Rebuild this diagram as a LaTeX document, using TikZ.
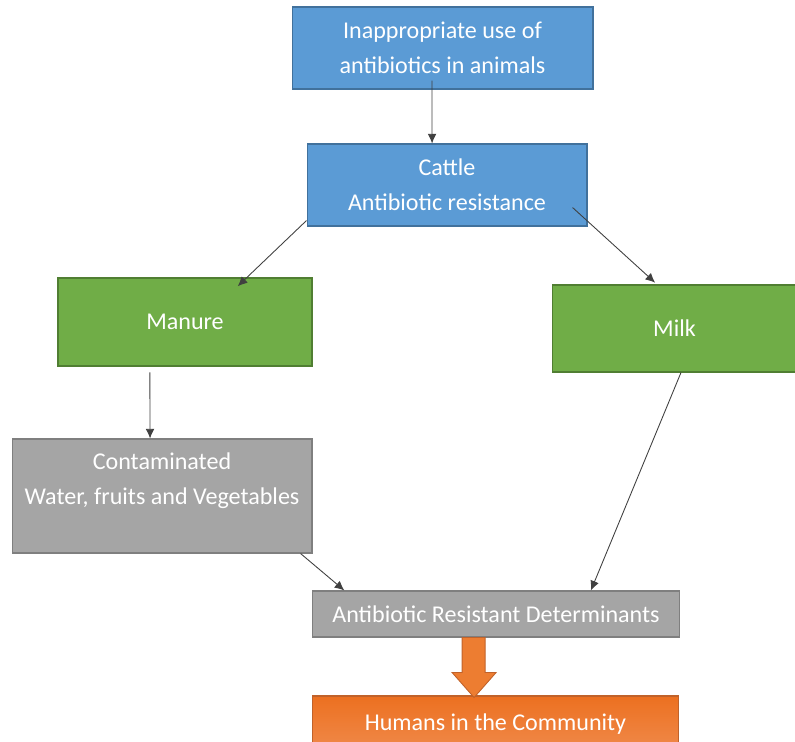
\documentclass[tikz,border=0pt]{standalone}
\usepackage{fontspec}
\setmainfont{Carlito}
\usetikzlibrary{arrows.meta}
\definecolor{boxblue}{HTML}{5B9BD5}
\definecolor{lineblue}{HTML}{41719C}
\definecolor{boxgreen}{HTML}{70AD47}
\definecolor{linegreen}{HTML}{507E32}
\definecolor{boxgray}{HTML}{A5A5A5}
\definecolor{linegray}{HTML}{7F7F7F}
\definecolor{boxorange}{HTML}{ED7D31}
\definecolor{lightorange}{HTML}{F08A4B}
\definecolor{deeporange}{HTML}{EC7020}
\definecolor{lineorange}{HTML}{C0622A}
\tikzset{
  >={Latex[length=5.5pt,width=5pt]},
  box/.style={rectangle,draw,line width=0.6pt,text=white,align=center,inner sep=0pt,
    font=\fontsize{13.7}{19.8}\selectfont},
  bluebox/.style={box,fill=boxblue,draw=lineblue},
  greenbox/.style={box,fill=boxgreen,draw=linegreen},
  graybox/.style={box,fill=boxgray,draw=linegray},
  orangebox/.style={box,top color=deeporange,bottom color=lightorange,draw=lineorange},
  link/.style={->,draw=black!75,line width=0.5pt},
  bigarrow/.style={fill=boxorange,draw=lineorange,line width=0.5pt}
}
\begin{document}
\begin{tikzpicture}[x=0.02cm,y=-0.02cm]
\useasboundingbox (0,0) rectangle (795,742);
\node[bluebox,minimum width=6.02cm,minimum height=1.64cm]
(use) at (442.5,48) {Inappropriate use of\\antibiotics in animals};
\node[bluebox,minimum width=5.6cm,minimum height=1.64cm]
(cattle) at (447,185) {Cattle\\Antibiotic resistance};
\node[greenbox,minimum width=5.08cm,minimum height=1.76cm]
(manure) at (185,322) {Manure};
\node[greenbox,minimum width=4.9cm,minimum height=1.74cm]
(milk) at (674.5,328.5) {Milk};
\node[graybox,minimum width=6cm,minimum height=2.28cm]
(food) at (162,496) {Contaminated\\Water, fruits and Vegetables\\\mbox{}};
\node[graybox,minimum width=7.36cm,minimum height=0.92cm]
(det) at (496,614) {Antibiotic Resistant Determinants};
\node[orangebox,minimum width=7.34cm,minimum height=1.12cm]
(hum) at (495.5,724) {Humans in the Community};
\draw[link]([xshift=-6pt,yshift=5pt]use.south) -- ([xshift=-8.5pt]cattle.north);
\draw[link]([yshift=3.4pt]cattle.south west) -- ([xshift=30pt,yshift=-5pt]manure.north);
\draw[link]([xshift=-8.5pt,yshift=10.8pt]cattle.south east) -- ([xshift=-11pt,yshift=1pt]milk.north);
\draw[link]([xshift=-20pt,yshift=-3.4pt]manure.south) -- ([xshift=-6.8pt]food.north);
\draw[link]([xshift=-6.8pt]food.south east) -- ([xshift=18.7pt]det.north west);
\draw[link]([xshift=3.7pt]milk.south) -- ([xshift=-51pt]det.north east);
\filldraw[bigarrow]([xshift=-19.3pt]det.south) -- ++(0,35) -- ++(-10,0) -- ++(22,25)
  -- ++(22,-25) -- ++(-11,0) -- ++(0,-35) -- cycle;
\end{tikzpicture}
\end{document}
